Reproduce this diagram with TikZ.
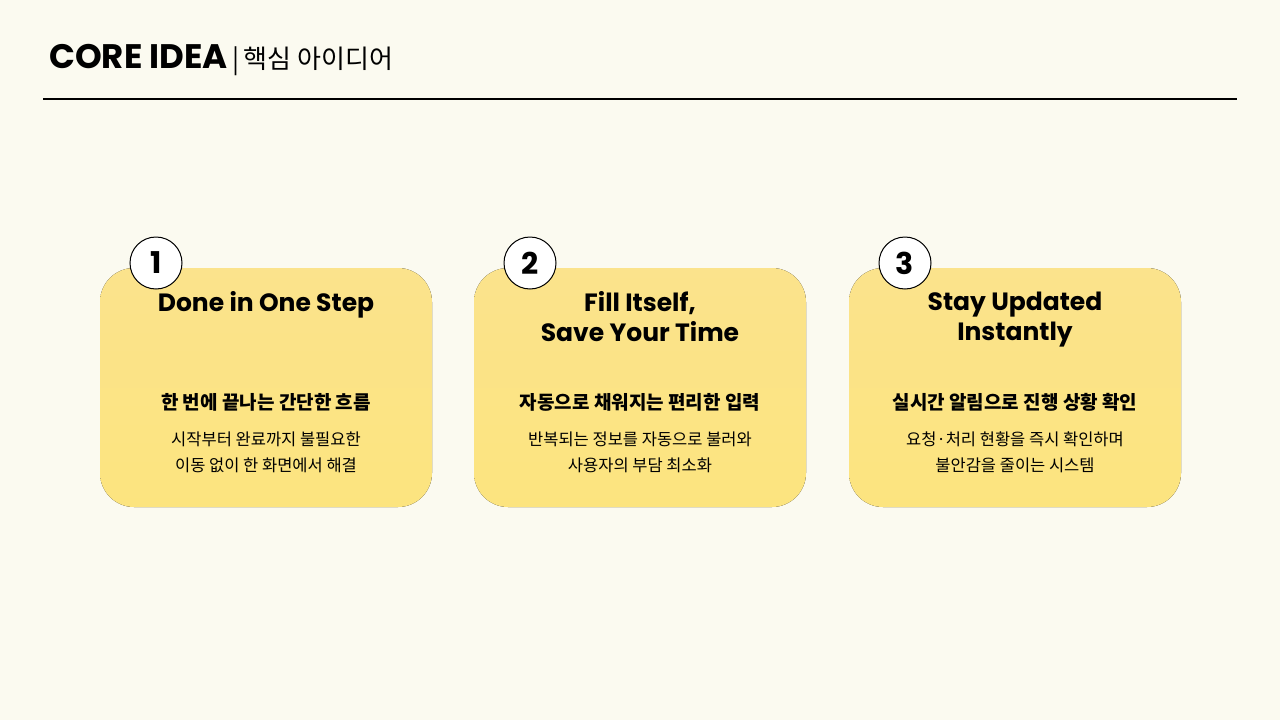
\documentclass[tikz,border=0pt]{standalone}
\usepackage{fontspec}
\setmainfont{Poppins}
\newfontfamily\kr{Noto Sans CJK KR}
\definecolor{bg}{HTML}{FBFAF0}
\definecolor{card}{HTML}{FCE47F}
\definecolor{cardl}{HTML}{FBE38C}
\begin{document}
\begin{tikzpicture}[x=1pt,y=-1pt,
  cardbox/.style={rounded corners=34pt, top color=cardl, bottom color=card, draw=none},
  numc/.style={circle, draw=black, line width=1pt, fill=white, minimum size=52pt, inner sep=0pt, font=\fontsize{30}{30}\selectfont\bfseries},
  ttl/.style={align=center, font=\fontsize{25}{30}\selectfont\bfseries},
  sub/.style={font=\kr\fontsize{19}{22}\selectfont\bfseries},
  body/.style={align=center, font=\kr\fontsize{16.5}{26}\selectfont}]
\useasboundingbox (0,0) rectangle (1280,720);
\fill[bg] (0,0) rectangle (1280,720);
\node[anchor=base west, inner sep=0pt, font=\fontsize{34}{34}\selectfont\bfseries] (t) at (49,68) {CORE IDEA};
\node[anchor=base west, inner sep=0pt, font=\kr\fontsize{26}{26}\selectfont] (t2) at (t.base east) {\,|\,핵심 아이디어};
\coordinate (l1) at (43,99); \coordinate (l2) at (1237,99);
\draw[line width=1.2pt] (l1) -- (l2);
\foreach \i/\x/\tt/\s/\ba/\bb in {
 1/100/{Done in One Step}/{한 번에 끝나는 간단한 흐름}/{시작부터 완료까지 불필요한}/{이동 없이 한 화면에서 해결},
 2/474/{Fill Itself,\\Save Your Time}/{자동으로 채워지는 편리한 입력}/{반복되는 정보를 자동으로 불러와}/{사용자의 부담 최소화},
 3/849/{Stay Updated\\Instantly}/{실시간 알림으로 진행 상황 확인}/{요청·처리 현황을 즉시 확인하며}/{불안감을 줄이는 시스템}}{
  \fill[cardbox] (\x,268) rectangle (\x+332,507);
  \node[numc] (n\i) at (\x+56,263) {\i};
  \node[ttl, anchor=north] (h\i) at (\x+166,288) {\tt};
  \node[sub] (s\i) at (\x+166,402) {\s};
  \node[body] (b\i) at (\x+166,452) {\ba\\\bb};
}
\end{tikzpicture}
\end{document}
